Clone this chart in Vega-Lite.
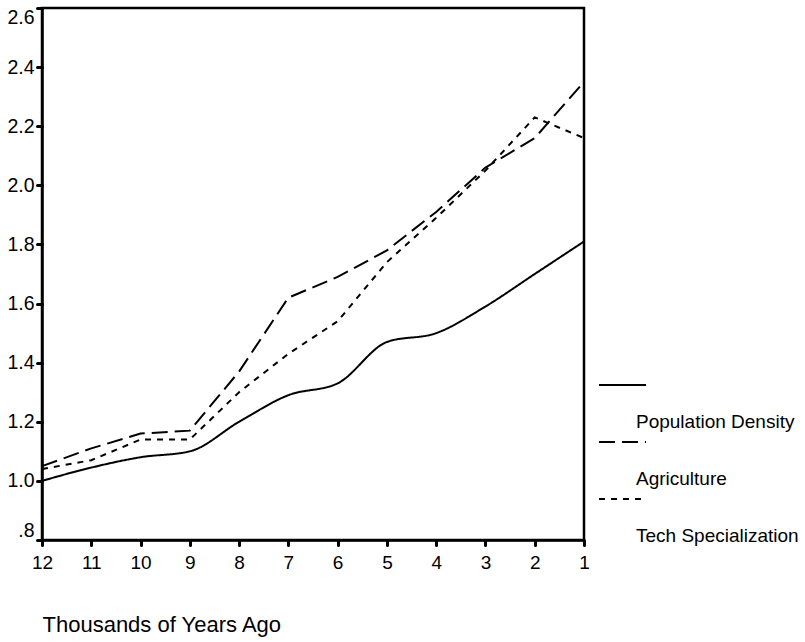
{
  "$schema": "https://vega.github.io/schema/vega-lite/v6.json",
  "autosize": "none",
  "width": 542,
  "height": 532,
  "padding": {"left": 42, "top": 8, "right": 221, "bottom": 102},
  "background": "white",
  "config": {
    "font": "Liberation Sans",
    "view": {"stroke": "black", "strokeWidth": 2.5},
    "axis": {"grid": false, "domainColor": "black", "domainWidth": 2.5, "tickColor": "black", "tickWidth": 3, "tickCap": "round", "tickSize": 5, "labelColor": "black", "titleColor": "black", "labelFont": "Liberation Sans", "titleFont": "Liberation Sans", "titleFontWeight": "normal"}
  },
  "data": {"values": [
    {"ago": 12, "series": "Population Density", "value": 1.0},
    {"ago": 11, "series": "Population Density", "value": 1.045},
    {"ago": 10, "series": "Population Density", "value": 1.08},
    {"ago": 9, "series": "Population Density", "value": 1.1},
    {"ago": 8, "series": "Population Density", "value": 1.2},
    {"ago": 7, "series": "Population Density", "value": 1.29},
    {"ago": 6, "series": "Population Density", "value": 1.33},
    {"ago": 5, "series": "Population Density", "value": 1.47},
    {"ago": 4, "series": "Population Density", "value": 1.5},
    {"ago": 3, "series": "Population Density", "value": 1.59},
    {"ago": 2, "series": "Population Density", "value": 1.7},
    {"ago": 1, "series": "Population Density", "value": 1.81},
    {"ago": 12, "series": "Agriculture", "value": 1.05},
    {"ago": 11, "series": "Agriculture", "value": 1.11},
    {"ago": 10, "series": "Agriculture", "value": 1.16},
    {"ago": 9, "series": "Agriculture", "value": 1.17},
    {"ago": 8, "series": "Agriculture", "value": 1.37},
    {"ago": 7, "series": "Agriculture", "value": 1.62},
    {"ago": 6, "series": "Agriculture", "value": 1.69},
    {"ago": 5, "series": "Agriculture", "value": 1.78},
    {"ago": 4, "series": "Agriculture", "value": 1.91},
    {"ago": 3, "series": "Agriculture", "value": 2.06},
    {"ago": 2, "series": "Agriculture", "value": 2.16},
    {"ago": 1, "series": "Agriculture", "value": 2.35},
    {"ago": 12, "series": "Tech Specialization", "value": 1.04},
    {"ago": 11, "series": "Tech Specialization", "value": 1.07},
    {"ago": 10, "series": "Tech Specialization", "value": 1.14},
    {"ago": 9, "series": "Tech Specialization", "value": 1.14},
    {"ago": 8, "series": "Tech Specialization", "value": 1.3},
    {"ago": 7, "series": "Tech Specialization", "value": 1.43},
    {"ago": 6, "series": "Tech Specialization", "value": 1.54},
    {"ago": 5, "series": "Tech Specialization", "value": 1.74},
    {"ago": 4, "series": "Tech Specialization", "value": 1.89},
    {"ago": 3, "series": "Tech Specialization", "value": 2.05},
    {"ago": 2, "series": "Tech Specialization", "value": 2.23},
    {"ago": 1, "series": "Tech Specialization", "value": 2.16}
  ]},
  "encoding": {
    "x": {"field": "ago", "type": "ordinal", "sort": "descending",
      "scale": {"type": "point", "padding": 0},
      "axis": {"labelAngle": 0, "labelFontSize": 19, "labelPadding": 8, "title": "Thousands of Years Ago", "titleFontSize": 22, "titleAnchor": "start", "titleAlign": "left", "titlePadding": 42}},
    "y": {"field": "value", "type": "quantitative",
      "scale": {"domain": [0.8, 2.6], "nice": false, "zero": false},
      "axis": {"values": [0.8, 1.0, 1.2, 1.4, 1.6, 1.8, 2.0, 2.2, 2.4, 2.6], "labelExpr": "datum.value < 0.9 ? '.8' : format(datum.value, '.1f')", "labelFontSize": 19.5, "labelPadding": 3, "labelFlush": true, "labelFlushOffset": 0, "title": null}},
    "strokeDash": {"field": "series", "type": "nominal",
      "sort": ["Population Density", "Agriculture", "Tech Specialization"],
      "scale": {"domain": ["Population Density", "Agriculture", "Tech Specialization"], "range": [[1, 0], [16, 7], [6, 6]]},
      "legend": {"title": null, "orient": "none", "legendX": 556, "legendY": 377, "padding": 0, "symbolType": "stroke", "symbolSize": 2209, "symbolStrokeColor": "black", "symbolStrokeWidth": 2, "labelFontSize": 19, "labelColor": "black", "labelOffset": -11, "rowPadding": 6, "labelLimit": 300,
        "encode": {"symbols": {"update": {"y": {"value": 0}}}, "labels": {"update": {"y": {"value": 0}, "dy": {"value": 37}}}}}}
  },
  "layer": [
    {"mark": {"type": "line", "color": "black", "strokeWidth": 2, "interpolate": "monotone"}, "transform": [{"filter": "datum.series === 'Population Density'"}]},
    {"mark": {"type": "line", "color": "black", "strokeWidth": 2}, "transform": [{"filter": "datum.series !== 'Population Density'"}]}
  ]
}
